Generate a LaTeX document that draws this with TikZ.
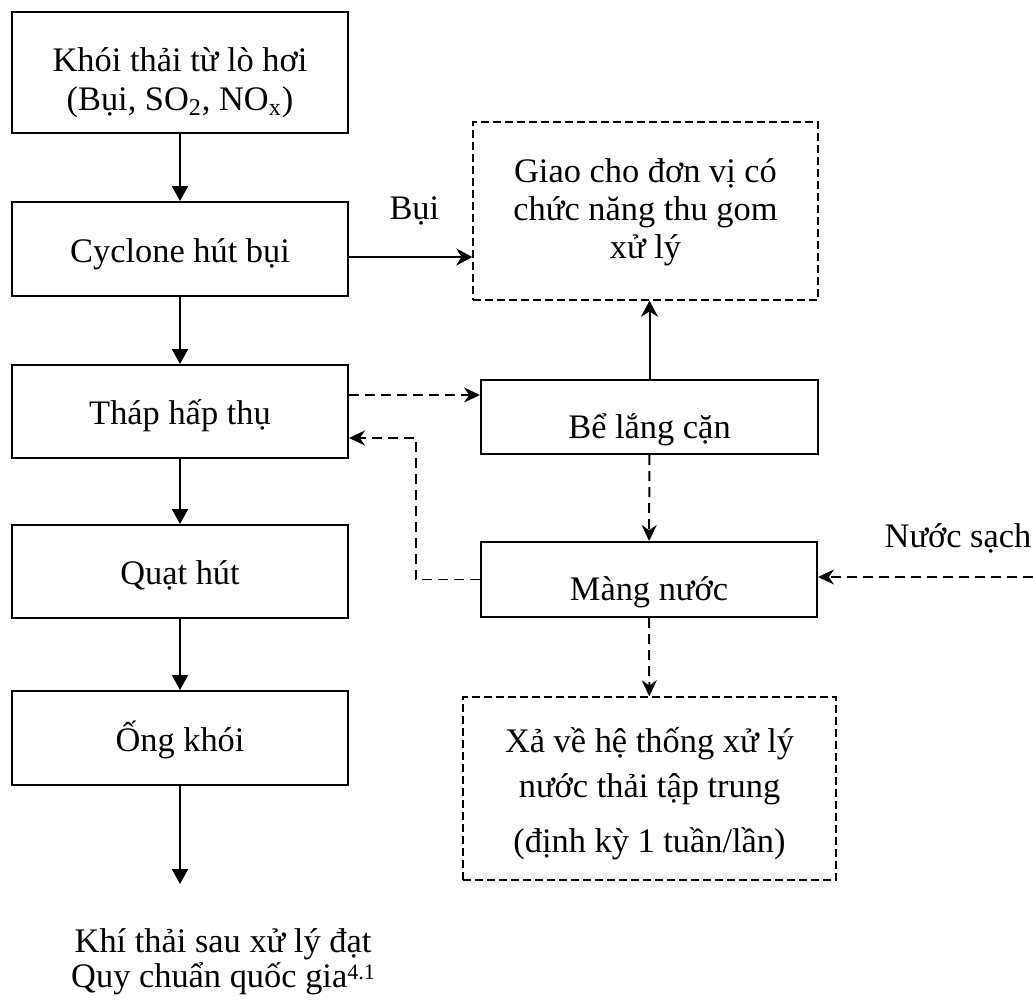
\documentclass[tikz,border=0pt]{standalone}
\usepackage{fontspec}
\setmainfont{Liberation Serif}
\usetikzlibrary{arrows.meta}

\newcommand{\stdref}[1]{\raisebox{4pt}{\fontsize{11}{11}\selectfont #1}}

\tikzset{
  txt/.style={font=\fontsize{17.2}{19.5}\selectfont, inner sep=0pt},
  box/.style={txt, draw, line width=1pt, minimum width=168pt, minimum height=46.5pt,
    text height=17pt, text depth=4pt},
  rbox/.style={box, text height=25pt},
  dbox/.style={draw, line width=0.7pt, dash pattern=on 4pt off 2pt, inner sep=0pt},
  flow/.style={line width=1pt, -{Triangle[length=7.5pt,width=8pt]}},
  sflow/.style={line width=1pt, -{Stealth[length=8pt,width=8.5pt]}},
  dflow/.style={line width=1pt, dash pattern=on 5pt off 3pt, -{Stealth[length=8pt,width=7.5pt]}},
  rflow/.style={dflow, line width=0.6pt}
}

\begin{document}
\begin{tikzpicture}[x=0.5pt, y=-0.5pt]
\useasboundingbox (0,0) rectangle (1033,1003);

% main line (gas)
\node[box, minimum height=60.5pt] (flue) at (180,72.5) {};
\node[txt, align=center, anchor=base] (flue-t) at (180,110) {Khói thải từ lò hơi\\(Bụi, SO\textsubscript{2}, NO\textsubscript{x})};
\node[box, minimum height=47pt] (cyclone) at (180,249) {Cyclone hút bụi};
\node[box] (absorb) at (180,411.5) {Tháp hấp thụ};
\node[box] (fan) at (180,571.5) {Quạt hút};
\node[box, minimum height=47pt] (stack) at (180,738) {Ống khói};
\coordinate (stack-end) at (180,884);
\node[txt, align=center, anchor=base] (out) at (223,987) {Khí thải sau xử lý đạt\\[-2pt]Quy chuẩn quốc gia\stdref{4.1}};

% water side
\node[dbox, minimum width=172.5pt, minimum height=89pt] (dispose) at (645.5,211) {};
\node[txt, align=center, anchor=base] (dispose-t) at (645.5,258) {Giao cho đơn vị có\\[-0.5pt]chức năng thu gom\\[-0.5pt]xử lý};
\node[rbox, minimum width=168.5pt, minimum height=37pt] (sett) at (649.5,417) {Bể lắng cặn};
\node[rbox, minimum height=37.5pt] (film) at (649,579.5) {Màng nước};
\node[dbox, minimum width=186.5pt, minimum height=91.5pt] (drain) at (649.5,788.5) {};
\node[txt, align=center, anchor=base] (drain-t) at (649.5,852) {Xả về hệ thống xử lý\\[3pt]nước thải tập trung\\[8pt](định kỳ 1 tuần/lần)};
\node[txt, anchor=base] (water) at (958,547) {Nước sạch};
\coordinate (water-in) at (1033,577);

\draw[flow] (flue) -- (cyclone);
\draw[flow] (cyclone) -- (absorb);
\draw[flow] (absorb) -- (fan);
\draw[flow] (fan) -- (stack);
\draw[flow] (stack) -- (stack-end);

\coordinate (cyc-out) at ([yshift=-4pt]cyclone.east);
\draw[sflow] (cyc-out) -- (cyc-out -| dispose.west) node[pos=0.53, txt, anchor=base, yshift=19pt] (dust) {Bụi};
\draw[sflow] (sett.north) -- (sett.north |- dispose.south);

\coordinate (abs-out) at ([yshift=8.25pt]absorb.east);
\coordinate (abs-in) at ([yshift=-13.25pt]absorb.east);
\draw[dflow] (abs-out) -- (abs-out -| sett.west);
\draw[dflow] (sett) -- (film);
\draw[rflow] (film.west) -- ++(-64,0) |- (abs-in);
\draw[dflow] (water-in) -- (water-in -| film.east);
\draw[dflow] (film) -- (drain);
\end{tikzpicture}
\end{document}
